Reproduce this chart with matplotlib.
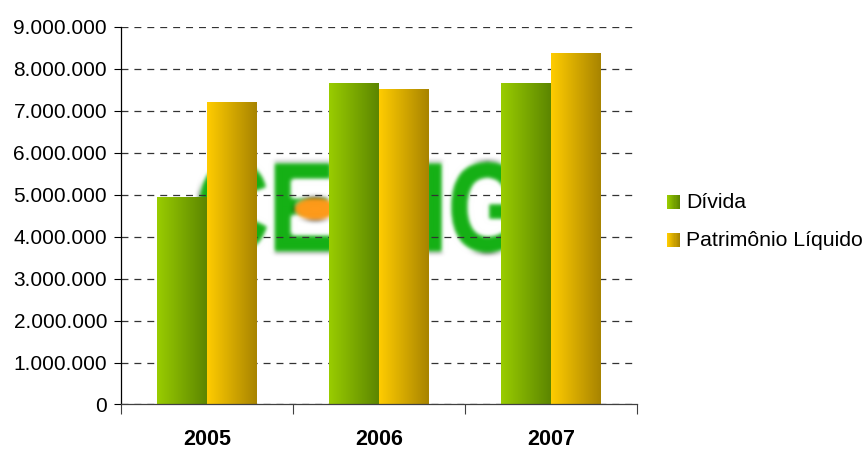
import numpy as np
import matplotlib
matplotlib.use("Agg")
import matplotlib.pyplot as plt
from matplotlib.colors import to_rgb
from matplotlib.patches import Rectangle, PathPatch, Ellipse
from matplotlib.textpath import TextPath
from matplotlib.font_manager import FontProperties
from matplotlib.transforms import Affine2D
from matplotlib.legend_handler import HandlerBase
from matplotlib.ticker import FuncFormatter, MultipleLocator, FixedLocator

# ----------------------------------------------------------
# Data
# ----------------------------------------------------------
years = ["2005", "2006", "2007"]
divida = [4_930_000, 7_640_000, 7_640_000]
patrimonio = [7_190_000, 7_500_000, 8_360_000]
series_names = ["Dívida", "Patrimônio Líquido"]

# gradient end colours (left -> right)
GREEN = ("#99cc00", "#5c8600")
GOLD = ("#ffcc00", "#a88400")

plt.rcParams["font.family"] = ["Liberation Sans", "DejaVu Sans"]
plt.rcParams["lines.scale_dashes"] = False


def gradient_row(c0, c1, n=64):
    a = np.array(to_rgb(c0))
    b = np.array(to_rgb(c1))
    t = np.linspace(0, 1, n)[None, :, None]
    return a + (b - a) * t


def blur(img, dpi):
    # soft gaussian blur for the background logo
    pad = 8
    a = np.pad(img, ((pad, pad), (pad, pad), (0, 0)))
    k = np.exp(-0.5 * (np.arange(-pad, pad + 1) / 2.2) ** 2)
    k /= k.sum()
    for axis in (0, 1):
        a = np.apply_along_axis(lambda m: np.convolve(m, k, mode="same"), axis, a)
    return a, -pad, -pad


class GradientHandler(HandlerBase):
    def __init__(self, colors):
        super().__init__()
        self.colors = colors

    def create_artists(self, legend, orig_handle, xdescent, ydescent,
                       width, height, fontsize, trans):
        n = 12
        cols = gradient_row(*self.colors, n=n)[0]
        arts = []
        for k in range(n):
            r = Rectangle((-xdescent + k * width / n, -ydescent - 0.12 * height),
                          width / n * 1.08, height,
                          facecolor=cols[k], edgecolor="none", lw=0,
                          transform=trans)
            arts.append(r)
        return arts


fig = plt.figure(figsize=(8.67, 4.49), dpi=100)
ax = fig.add_axes([0.13956, 0.09911, 0.59516, 0.84143])

x = np.arange(len(years))
w = 0.29

# background logo
fp = FontProperties(family="Liberation Sans", weight="bold")
tp = TextPath((0, 0), "CEMIG", size=1, prop=fp)
ext = tp.get_extents()
lx0, lx1, ly0, ly1 = -0.04, 1.82, 3_640_000, 5_760_000
tr = (Affine2D()
      .translate(-ext.x0, -ext.y0)
      .scale((lx1 - lx0) / ext.width, (ly1 - ly0) / ext.height)
      .translate(lx0, ly0)) + ax.transData
logo = PathPatch(tp, facecolor="#14b014", edgecolor="#14b014", lw=2.5,
                 joinstyle="round", transform=tr, zorder=0.2)
logo.set_agg_filter(blur)
ax.add_patch(logo)
dot = Ellipse((0.63, 4_660_000), 0.25, 560_000, facecolor="#ff9a1a",
              edgecolor="none", zorder=0.3)
dot.set_agg_filter(blur)
ax.add_patch(dot)

# gradient bars
for i in range(len(years)):
    ax.imshow(gradient_row(*GREEN), extent=[x[i] - w, x[i], 0, divida[i]],
              aspect="auto", interpolation="bilinear", zorder=2)
    ax.imshow(gradient_row(*GOLD), extent=[x[i], x[i] + w, 0, patrimonio[i]],
              aspect="auto", interpolation="bilinear", zorder=2)

ax.set_xlim(-0.5, 2.5)
ax.set_ylim(0, 9_000_000)

ax.set_axisbelow(True)
ax.yaxis.set_major_locator(MultipleLocator(1_000_000))
ax.yaxis.set_major_formatter(FuncFormatter(lambda v, _: f"{int(v):,}".replace(",", ".")))
ax.yaxis.grid(True, color="#333333", linewidth=0.9, linestyle=(0, (5, 4.3)))

ax.set_xticks(x)
ax.set_xticklabels(years, fontweight="bold")
ax.xaxis.set_minor_locator(FixedLocator([-0.5, 0.5, 1.5, 2.5]))

ax.tick_params(axis="y", direction="out", length=5, width=0.8, pad=5,
               labelsize=15, color="black")
ax.tick_params(axis="x", which="major", length=0, pad=18, labelsize=15.5)
ax.tick_params(axis="x", which="minor", length=7, width=0.8, color="#404040")

for s in ("top", "right"):
    ax.spines[s].set_visible(False)
ax.spines["left"].set_color("black")
ax.spines["left"].set_linewidth(0.9)
ax.spines["bottom"].set_color("#404040")
ax.spines["bottom"].set_linewidth(0.9)

h1 = Rectangle((0, 0), 1, 1)
h2 = Rectangle((0, 0), 1, 1)
fig.legend(handles=[h1, h2], labels=series_names,
           handler_map={h1: GradientHandler(GREEN), h2: GradientHandler(GOLD)},
           loc="center left", bbox_to_anchor=(0.769, 0.507),
           frameon=False, borderpad=0, borderaxespad=0,
           handlelength=0.62, handleheight=0.65, handletextpad=0.3,
           labelspacing=0.87, fontsize=15.3)

fig.savefig("out.png", dpi=100)
